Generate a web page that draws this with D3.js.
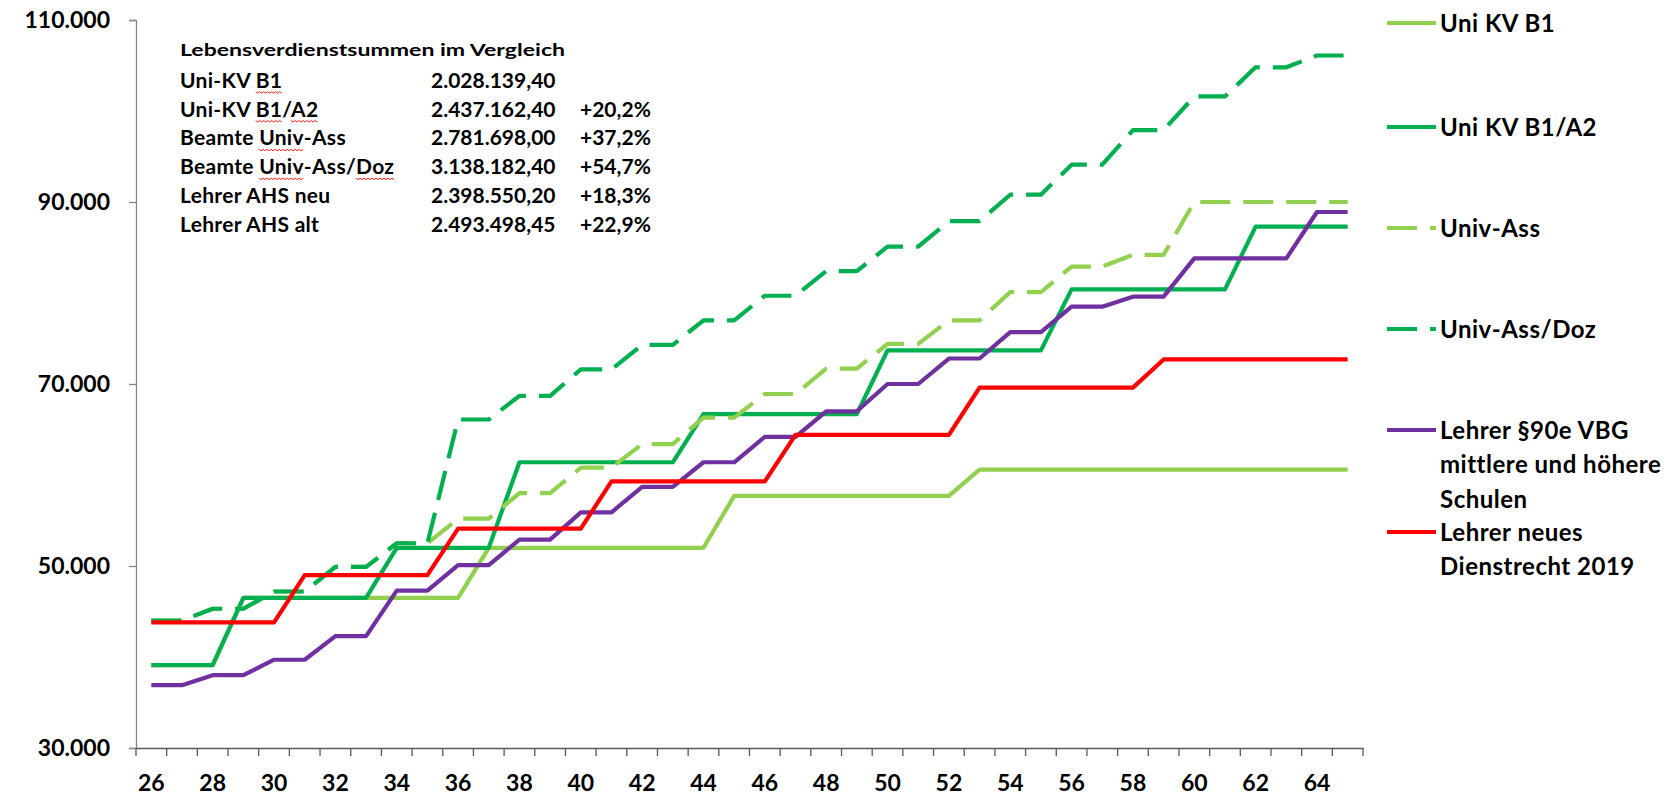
<!DOCTYPE html>
<html>
<head>
<meta charset="utf-8">
<script src="https://cdn.jsdelivr.net/npm/d3@7"></script>
<style>
  body { margin: 0; background: #ffffff; }
  svg { display: block; font-family: Lato, "Noto Sans", sans-serif; font-weight: bold; }
</style>
</head>
<body>
<div id="vis"></div>
<script>
//###############################################################
// Lebensverdienst: salary per age, six career tracks
//###############################################################

// categories (age)
const AGES = [26, 27, 28, 29, 30, 31, 32, 33, 34, 35,
              36, 37, 38, 39, 40, 41, 42, 43, 44, 45,
              46, 47, 48, 49, 50, 51, 52, 53, 54, 55,
              56, 57, 58, 59, 60, 61, 62, 63, 64, 65];
const X_LABELS = [26, 28, 30, 32, 34, 36, 38, 40, 42, 44, 46, 48, 50, 52, 54, 56, 58, 60, 62, 64];
const Y_TICKS = [30000, 50000, 70000, 90000, 110000];

// series values (one value per age)
const UNI_KV_B1 = [39100, 39100, 39100, 46500, 46500, 46500, 46500, 46500, 46500, 46500,
                   46500, 52000, 52000, 52000, 52000, 52000, 52000, 52000, 52000, 57700,
                   57700, 57700, 57700, 57700, 57700, 57700, 57700, 60600, 60600, 60600,
                   60600, 60600, 60600, 60600, 60600, 60600, 60600, 60600, 60600, 60600];
const UNI_KV_B1_A2 = [39100, 39100, 39100, 46500, 46500, 46500, 46500, 46500, 52000, 52000,
                      52000, 52000, 61400, 61400, 61400, 61400, 61400, 61400, 66700, 66700,
                      66700, 66700, 66700, 66700, 73700, 73700, 73700, 73700, 73700, 73700,
                      80400, 80400, 80400, 80400, 80400, 80400, 87300, 87300, 87300, 87300];
const UNIV_ASS = [44000, 44000, 45300, 45300, 47200, 47200, 49900, 49900, 52500, 52500,
                  55200, 55200, 58000, 58000, 60800, 60800, 63400, 63400, 66300, 66300,
                  68900, 68900, 71700, 71700, 74400, 74400, 77000, 77000, 80100, 80100,
                  82900, 82900, 84200, 84200, 90000, 90000, 90000, 90000, 90000, 90000];
const UNIV_ASS_DOZ = [44000, 44000, 45300, 45300, 47200, 47200, 49900, 49900, 52500, 52500,
                      66100, 66100, 68700, 68700, 71600, 71600, 74300, 74300, 77000, 77000,
                      79700, 79700, 82400, 82400, 85100, 85100, 87900, 87900, 90800, 90800,
                      94100, 94100, 97900, 97900, 101600, 101600, 104800, 104800, 106100, 106100];
const LEHRER_VBG = [36900, 36900, 38000, 38000, 39700, 39700, 42300, 42300, 47300, 47300,
                    50100, 50100, 52900, 52900, 55900, 55900, 58700, 58700, 61400, 61400,
                    64200, 64200, 67000, 67000, 70000, 70000, 72800, 72800, 75700, 75700,
                    78500, 78500, 79600, 79600, 83800, 83800, 83800, 83800, 88900, 88900];
const LEHRER_NEU = [43800, 43800, 43800, 43800, 43800, 49000, 49000, 49000, 49000, 49000,
                    54100, 54100, 54100, 54100, 54100, 59300, 59300, 59300, 59300, 59300,
                    59300, 64400, 64400, 64400, 64400, 64400, 64400, 69600, 69600, 69600,
                    69600, 69600, 69600, 72700, 72700, 72700, 72700, 72700, 72700, 72700];

// legend texts (one entry per series, split in lines)
const LEGEND_LINES = [["Uni KV B1"],
                      ["Uni KV B1/A2"],
                      ["Univ-Ass"],
                      ["Univ-Ass/Doz"],
                      ["Lehrer §90e VBG", "mittlere und höhere", "Schulen"],
                      ["Lehrer neues", "Dienstrecht 2019"]];

// the text box in the upper left
const TABLE_TITLE = "Lebensverdienstsummen im Vergleich";
const TABLE_NAMES = ["Uni-KV B1", "Uni-KV B1/A2", "Beamte Univ-Ass", "Beamte Univ-Ass/Doz", "Lehrer AHS neu", "Lehrer AHS alt"];
const TABLE_SUMS = ["2.028.139,40", "2.437.162,40", "2.781.698,00", "3.138.182,40", "2.398.550,20", "2.493.498,45"];
const TABLE_PCTS = ["", "+20,2%", "+37,2%", "+54,7%", "+18,3%", "+22,9%"];
// words with the red spell-check wave under them
const TABLE_WAVY = [["B1"], ["B1", "A2"], ["Univ"], ["Univ", "Doz"], [], []];

const SERIES = [UNI_KV_B1, UNI_KV_B1_A2, UNIV_ASS, UNIV_ASS_DOZ, LEHRER_VBG, LEHRER_NEU];
const COLORS = ["#92D050", "#00B050", "#92D050", "#00B050", "#7030A0", "#FF0000"];
const DASHES = [null, null, "30,13", "30,13", null, null];

const FRAME_WIDTH = 1678;
const FRAME_HEIGHT = 796;
const PLOT = {left: 136, right: 1363, top: 20, bottom: 748};

const FRAME = d3.select("#vis")
                .append("svg")
                  .attr("width", FRAME_WIDTH)
                  .attr("height", FRAME_HEIGHT);

FRAME.append("rect")
  .attr("width", FRAME_WIDTH)
  .attr("height", FRAME_HEIGHT)
  .attr("fill", "#ffffff");

// scales: ages are categories, the line points sit in the middle of each band
const X_SCALE = d3.scaleBand()
                  .domain(AGES)
                  .range([PLOT.left, PLOT.right])
                  .padding(0);
const HALF = X_SCALE.bandwidth() / 2;

const Y_SCALE = d3.scaleLinear()
                  .domain([30000, 110000])
                  .range([PLOT.bottom, PLOT.top]);

const DE = d3.formatLocale({decimal: ",", thousands: ".", grouping: [3], currency: ["", " €"]});

// y axis
const yAxis = FRAME.append("g")
  .attr("transform", "translate(" + PLOT.left + ",0)")
  .call(d3.axisLeft(Y_SCALE).tickValues(Y_TICKS).tickSize(7).tickPadding(19)
          .tickFormat(DE.format(",.0f")));
yAxis.select(".domain").attr("stroke", "#868686").attr("stroke-width", 1.3);
yAxis.selectAll(".tick line").attr("stroke", "#868686").attr("stroke-width", 1.3);
yAxis.selectAll(".tick text")
  .attr("font-size", "23px")
  .attr("font-family", "Lato, 'Noto Sans', sans-serif")
  .attr("font-weight", "bold")
  .attr("fill", "#000");

// x axis: labels every second age, ticks between all bands
const xAxis = FRAME.append("g")
  .attr("transform", "translate(0," + PLOT.bottom + ")")
  .call(d3.axisBottom(X_SCALE).tickValues(X_LABELS).tickSize(0).tickPadding(27));
xAxis.select(".domain").attr("stroke", "#595959").attr("stroke-width", 1.3);
xAxis.selectAll(".tick text")
  .attr("font-size", "23px")
  .attr("font-family", "Lato, 'Noto Sans', sans-serif")
  .attr("font-weight", "bold")
  .attr("fill", "#000");

FRAME.append("g")
  .selectAll("line")
  .data(AGES.concat(["end"]))
  .enter()
  .append("line")
    .attr("x1", (d) => { return d === "end" ? PLOT.right : X_SCALE(d); })
    .attr("x2", (d) => { return d === "end" ? PLOT.right : X_SCALE(d); })
    .attr("y1", PLOT.bottom)
    .attr("y2", PLOT.bottom + 8)
    .attr("stroke", "#595959")
    .attr("stroke-width", 1.3);

// the lines
const line = d3.line()
  .x((d, i) => { return X_SCALE(AGES[i]) + HALF; })
  .y((d) => { return Y_SCALE(d); });

FRAME.append("g")
  .selectAll("path")
  .data(SERIES)
  .enter()
  .append("path")
    .attr("d", (d) => { return line(d); })
    .attr("fill", "none")
    .attr("stroke", (d, i) => { return COLORS[i]; })
    .attr("stroke-width", 4.2)
    .attr("stroke-linejoin", "round")
    .attr("stroke-dasharray", (d, i) => { return DASHES[i]; });

// legend on the right
const LEGEND_X = 1387;
const LEGEND_Y = [23, 127, 228, 329, 430, 532];
const LEGEND_STEP = 34.5;

const legend = FRAME.append("g")
  .selectAll("g")
  .data(LEGEND_LINES)
  .enter()
  .append("g")
    .attr("transform", (d, i) => { return "translate(" + LEGEND_X + "," + LEGEND_Y[i] + ")"; });

legend.append("line")
  .attr("x1", 0)
  .attr("x2", 49)
  .attr("y1", 0)
  .attr("y2", 0)
  .attr("stroke", (d, i) => { return COLORS[i]; })
  .attr("stroke-width", 4.2)
  .attr("stroke-dasharray", (d, i) => { return DASHES[i]; });

legend.selectAll("text")
  .data((d) => { return d; })
  .enter()
  .append("text")
    .attr("x", 53)
    .attr("y", (d, j) => { return j * LEGEND_STEP; })
    .attr("dy", "0.36em")
    .attr("font-size", "24px")
    .attr("letter-spacing", "0.5px")
    .attr("fill", "#000")
    .text((d) => { return d; });

// text box with the lifetime sums
const TABLE_X = [180, 431, 580];
const TABLE_TITLE_Y = 56;
const TABLE_Y0 = 87.7;
const TABLE_STEP = 28.8;
const TABLE_FONT = "21px";

const box = FRAME.append("g");

box.append("text")
  .attr("x", TABLE_X[0])
  .attr("y", TABLE_TITLE_Y)
  .attr("font-size", "17.5px")
  .attr("textLength", 385)
  .attr("lengthAdjust", "spacingAndGlyphs")
  .attr("fill", "#000")
  .text(TABLE_TITLE);

TABLE_NAMES.forEach((name, i) => {
  const y = TABLE_Y0 + i * TABLE_STEP;
  const t = box.append("text")
    .attr("x", TABLE_X[0])
    .attr("y", y)
    .attr("font-size", TABLE_FONT)
    .attr("letter-spacing", "0.3px")
    .attr("fill", "#000")
    .text(name);
  box.append("text")
    .attr("x", TABLE_X[1])
    .attr("y", y)
    .attr("font-size", TABLE_FONT)
    .attr("fill", "#000")
    .text(TABLE_SUMS[i]);
  box.append("text")
    .attr("x", TABLE_X[2])
    .attr("y", y)
    .attr("font-size", TABLE_FONT)
    .attr("fill", "#000")
    .text(TABLE_PCTS[i]);

  // wavy red underline, like the spell checker draws it
  let from = 0;
  TABLE_WAVY[i].forEach((word) => {
    const start = name.indexOf(word, from);
    from = start + word.length;
    const node = t.node();
    const x0 = node.getStartPositionOfChar(start).x;
    const x1 = node.getEndPositionOfChar(start + word.length - 1).x;
    let d = "M" + x0 + "," + (y + 4);
    for (let x = x0 + 2, k = 0; x <= x1; x += 2, k++) {
      d += "L" + x + "," + (y + (k % 2 === 0 ? 5.5 : 4));
    }
    box.append("path")
      .attr("d", d)
      .attr("fill", "none")
      .attr("stroke", "#FF0000")
      .attr("stroke-width", 0.9);
  });
});
</script>
</body>
</html>
